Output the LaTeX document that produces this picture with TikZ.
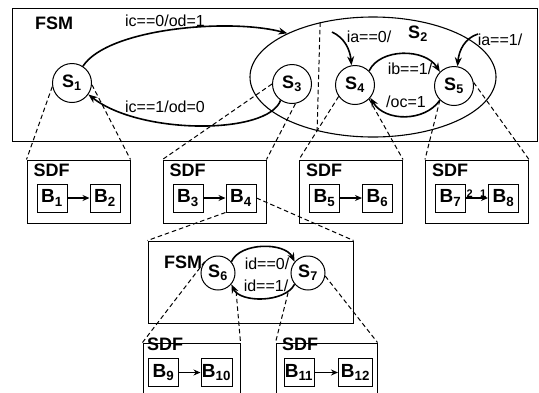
\documentclass[tikz,border=0pt]{standalone}
\usepackage{fontspec}
\setmainfont{Liberation Sans}
\usetikzlibrary{arrows.meta, positioning, shapes.geometric}

\begin{document}
\begin{tikzpicture}[x=1pt, y=-1pt,
  state/.style={draw, circle, line width=1pt, minimum size=39pt, inner sep=0pt,
                font=\bfseries\fontsize{18}{18}\selectfont},
  substate/.style={state, minimum size=34pt},
  frame/.style={draw, line width=1pt, inner sep=0pt},
  block/.style={draw, line width=1pt, minimum width=30pt, minimum height=28pt,
                inner sep=0pt, font=\bfseries\fontsize{19}{19}\selectfont},
  trans/.style={line width=1.6pt, -{Stealth[length=9pt, width=7pt]}},
  flow/.style={line width=1.5pt, -{Stealth[length=7pt, width=6pt]}},
  tlabel/.style={inner sep=0pt, font=\fontsize{16}{16}\selectfont},
  title/.style={inner sep=0pt, anchor=base west, font=\bfseries\fontsize{18}{18}\selectfont},
  portlbl/.style={inner sep=0.5pt, font=\bfseries\fontsize{11}{11}\selectfont},
  map/.style={line width=1pt, dash pattern=on 4.5pt off 3pt}]

  \useasboundingbox (0,0) rectangle (539,392);
  \clip (0,0) rectangle (539,392);

  % top level FSM
  \node[frame, minimum width=525pt, minimum height=133pt, anchor=north west] (fsm1) at (12,8) {};
  \node[title] (fsm1lbl) at (35,29) {FSM};
  \node[draw, ellipse, line width=1.1pt, minimum width=246pt, minimum height=120pt] (s2) at (373,77) {};
  \node[font=\bfseries\fontsize{18}{18}\selectfont, inner sep=0pt] (s2lbl) at (418,34) {S\textsubscript{2}};
  \node[state] (s1) at (72,83) {S\textsubscript{1}};
  \node[state] (s3) at (292,84) {S\textsubscript{3}};
  \node[state] (s4) at (355,85) {S\textsubscript{4}};
  \node[state] (s5) at (454,86) {S\textsubscript{5}};
  \coordinate (ia0) at (332,32);
  \coordinate (ia1) at (478,34);

  \draw[trans] (s1.57) .. controls (108,28) and (230,18) .. (s2.153);
  \draw[trans] (s3.235) .. controls (268,135) and (140,135) .. (s1.-35);
  \draw[trans] (ia0) .. controls (345,38) and (350,50) .. (s4.100);
  \draw[trans] (ia1) .. controls (465,38) and (459,50) .. (s5.80);
  \draw[trans] (s4.45) .. controls (380,48) and (425,48) .. (s5.135);
  \draw[trans] (s5.-135) .. controls (425,122) and (385,122) .. (s4.-40);

  \node[tlabel] (lic0) at (165,21) {ic==0/od=1};
  \node[tlabel] (lic1) at (165,107) {ic==1/od=0};
  \node[tlabel] (lia0) at (369,37) {ia==0/};
  \node[tlabel] (lia1) at (500,40) {ia==1/};
  \node[tlabel] (lib1) at (410,69) {ib==1/};
  \node[tlabel] (loc1) at (406,102) {/oc=1};

  % SDF refinements of the top states
  \foreach \i/\cx/\l/\r in {1/78.5/1/2, 2/214.5/3/4, 3/351/5/6, 4/477/7/8} {
    \node[frame, minimum width=103pt, minimum height=63pt] (sdf\i) at (\cx,191.5) {};
    \node[title] (sdflbl\i) at ([xshift=7pt, yshift=-17pt]sdf\i.north west) {SDF};
    \node[block] (b\l) at (\cx-26.5,198) {B\textsubscript{\l}};
    \node[block] (b\r) at (\cx+26.5,198) {B\textsubscript{\r}};
    \draw[flow] (b\l) -- (b\r);
  }
  \node[portlbl, anchor=south west] (p2) at (b7.east) {2};
  \node[portlbl, anchor=south east] (p1) at ([xshift=-1pt]b8.west) {1};

  \draw[map] (s1.190) -- (sdf1.north west);
  \draw[map] (s1.-5) -- (sdf1.north east);
  \draw[map] (s3.180) -- (sdf2.north west);
  \draw[map] (s3.-80) -- (sdf2.north east);
  \draw[map] (s2.134) -- (s2.224);
  \draw[map] (s4.215) -- (sdf3.north west);
  \draw[map] (s4.-45) -- (sdf3.north east);
  \draw[map] (s5.225) -- (sdf4.north west);
  \draw[map] (s5.10) -- (sdf4.north east);

  % FSM inside B4
  \node[frame, minimum width=205pt, minimum height=82pt] (fsm2) at (250.5,282) {};
  \node[title] (fsm2lbl) at (164,268) {FSM};
  \node[substate] (s6) at (218,273) {S\textsubscript{6}};
  \node[substate] (s7) at (308,273) {S\textsubscript{7}};
  \draw[trans] (s6.40) .. controls (240,242) and (285,242) .. (s7.140);
  \draw[trans] (s7.-140) .. controls (285,303) and (240,303) .. (s6.-40);
  \node[tlabel] (lid0) at (267,264) {id==0/};
  \node[tlabel] (lid1) at (266,286) {id==1/};

  \draw[map] (b4.south west) -- (fsm2.north west);
  \draw[map] (b4.east) -- (fsm2.north east);

  % SDF refinements of S6 and S7
  \node[frame, minimum width=97pt, minimum height=63pt] (sdf5) at (191.5,374.5) {};
  \node[frame, minimum width=101pt, minimum height=63pt] (sdf6) at (326.5,374.5) {};
  \node[title] (sdflbl5) at (147,350) {SDF};
  \node[title] (sdflbl6) at (282,350) {SDF};
  \node[block] (b9) at (163.5,372.5) {B\textsubscript{9}};
  \node[block, minimum width=31pt] (b10) at (216.5,372.5) {B\textsubscript{10}};
  \node[block] (b11) at (299,372.5) {B\textsubscript{11}};
  \node[block, minimum width=34pt] (b12) at (355.5,372.5) {B\textsubscript{12}};
  \draw[flow] (b9) -- (b10);
  \draw[flow] (b11) -- (b12);

  \draw[map] (s6.140) -- (sdf5.north west);
  \draw[map, shorten <=14pt] (s6.-15) -- (sdf5.north east);
  \draw[map, shorten <=14pt] (s7.200) -- (sdf6.north west);
  \draw[map] (s7.-10) -- (sdf6.north east);
\end{tikzpicture}
\end{document}
